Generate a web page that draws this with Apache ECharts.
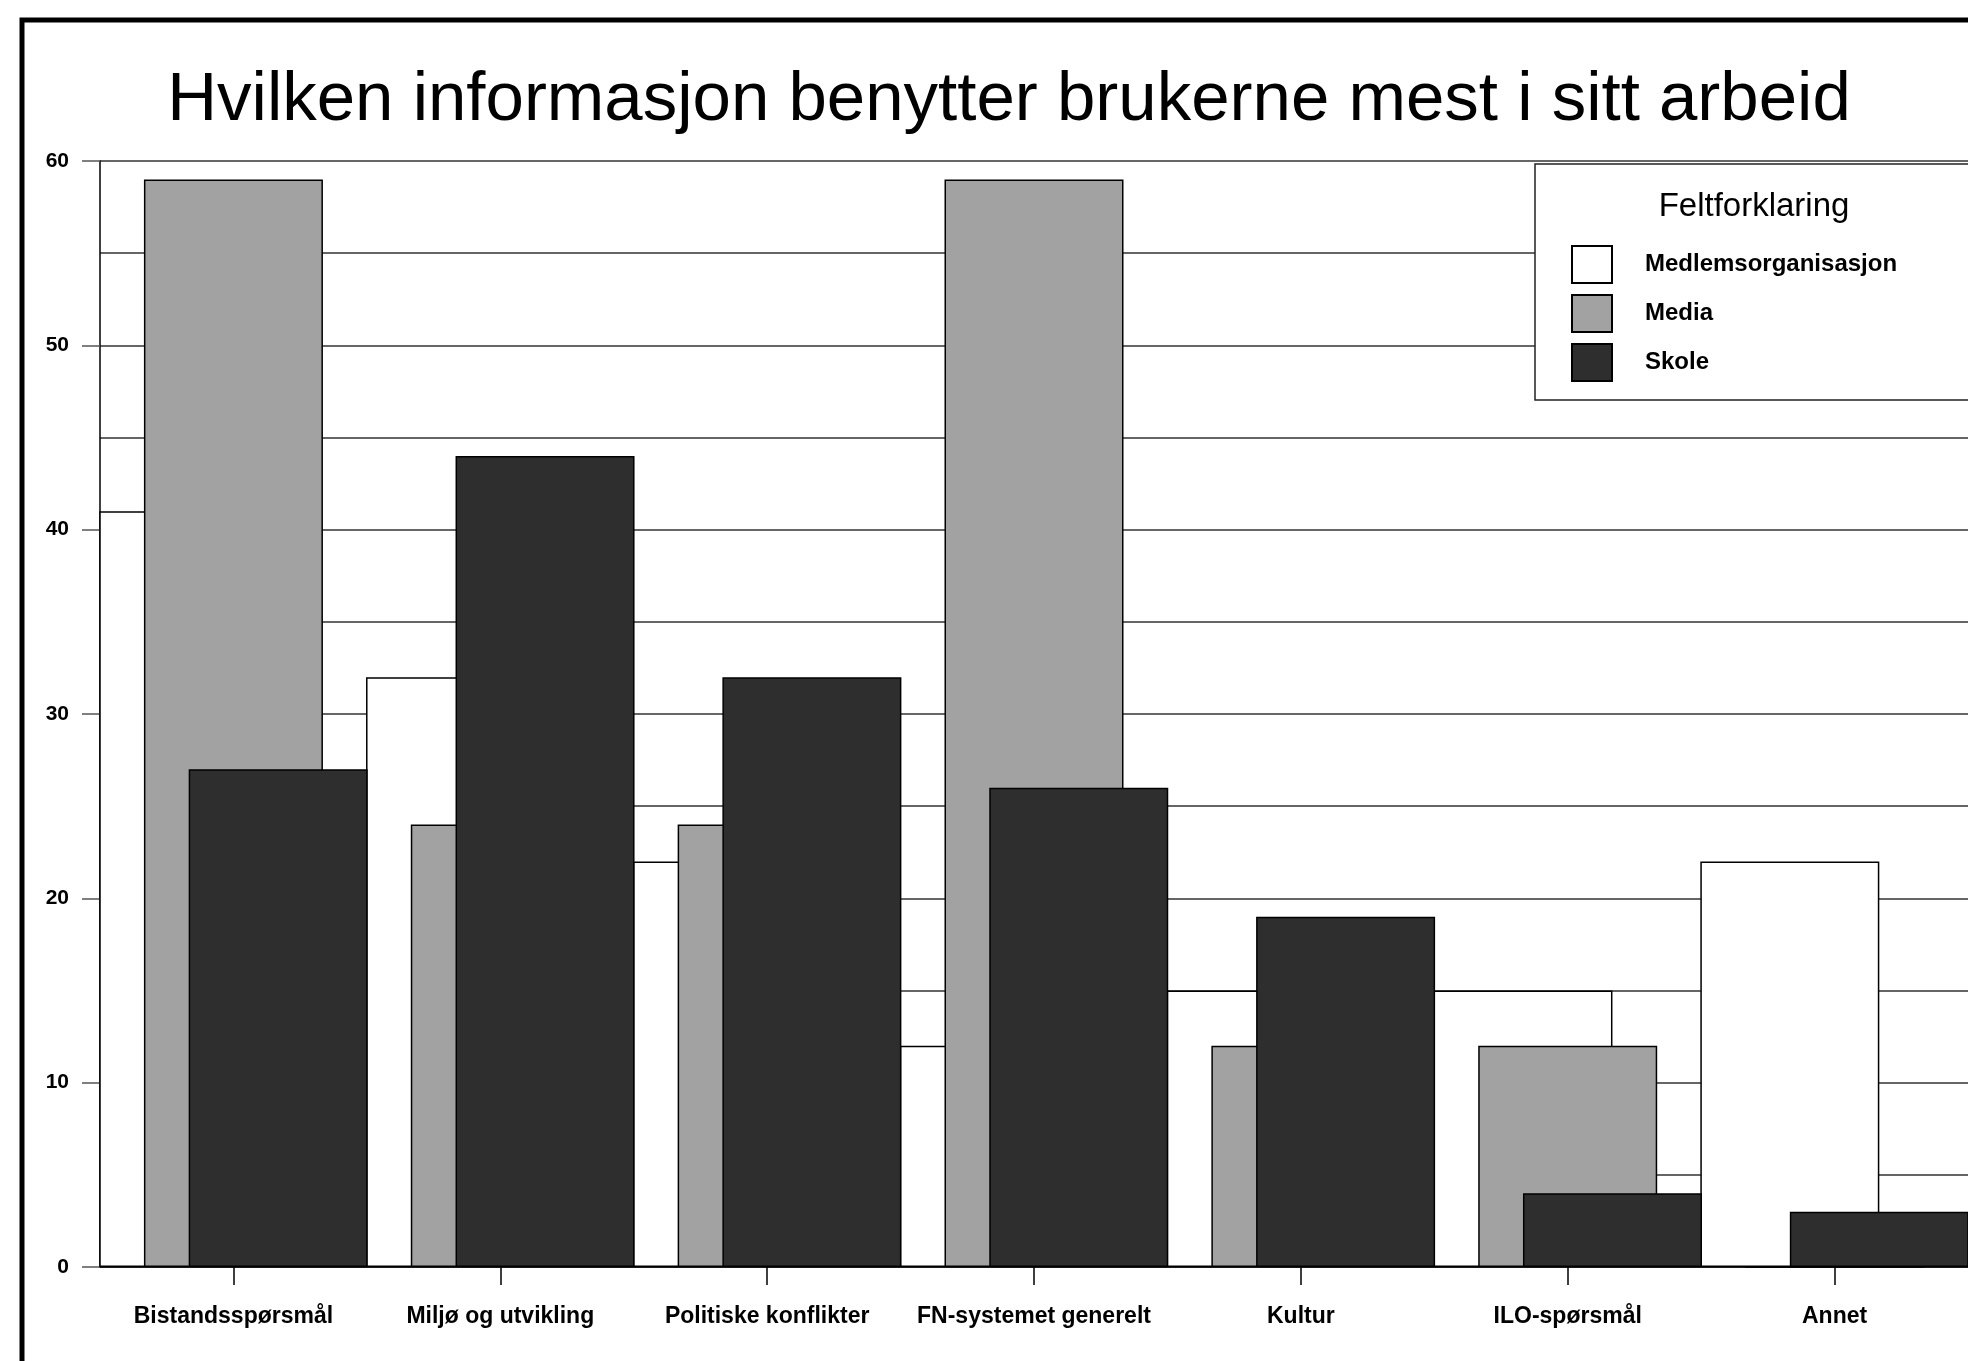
<!DOCTYPE html>
<html>
<head>
<meta charset="utf-8">
<script src="https://cdn.jsdelivr.net/npm/echarts@6/dist/echarts.min.js"></script>
<style>
html,body{margin:0;padding:0;background:#fff;}
#c{width:1968px;height:1361px;}
</style>
</head>
<body>
<div id="c"></div>
<script>
// ---- data ----
const titleText = 'Hvilken informasjon benytter brukerne mest i sitt arbeid';
const legendTitle = 'Feltforklaring';
const categories = ['Bistandsspørsmål', 'Miljø og utvikling', 'Politiske konflikter', 'FN-systemet generelt', 'Kultur', 'ILO-spørsmål', 'Annet'];
const seriesNames = ['Medlemsorganisasjon', 'Media', 'Skole'];
const medlem = [41, 32, 22, 12, 15, 15, 22];
const media = [59, 24, 24, 59, 12, 12, 0];
const skole = [27, 44, 32, 26, 19, 4, 3];
const yTicks = [0, 10, 20, 30, 40, 50, 60];

const chart = echarts.init(document.getElementById('c'), null, {renderer: 'canvas'});
const FONT = '"Liberation Sans", Arial, sans-serif';
const colors = ['#ffffff', '#a2a2a2', '#2e2e2e'];
const values = [medlem, media, skole];

const option = {
  animation: false,
  backgroundColor: '#ffffff',
  title: {
    text: titleText,
    left: 1004,
    top: 61,
    textAlign: 'center',
    textStyle: {fontFamily: FONT, fontSize: 69, fontWeight: 'normal', color: '#000'}
  },
  legend: {
    orient: 'vertical',
    left: 1535,
    top: 164,
    padding: [81, 160, 18, 36],
    itemWidth: 40,
    itemHeight: 37,
    itemGap: 10,
    icon: 'rect',
    backgroundColor: '#ffffff',
    borderColor: '#222',
    borderWidth: 1.5,
    z: 10,
    textStyle: {fontFamily: FONT, fontSize: 24, fontWeight: 'bold', color: '#000', padding: [0, 0, 0, 28]},
    data: seriesNames
  },
  grid: {left: 100, right: -10, top: 161, bottom: 94, containLabel: false},
  xAxis: {
    type: 'category',
    data: categories,
    boundaryGap: true,
    axisLine: {show: true, lineStyle: {color: '#000', width: 1.5}},
    axisTick: {show: true, alignWithLabel: true, length: 18, lineStyle: {color: '#000', width: 1.5}},
    axisLabel: {fontFamily: FONT, fontSize: 23, fontWeight: 'bold', color: '#000', margin: 38, interval: 0}
  },
  yAxis: {
    type: 'value',
    min: yTicks[0],
    max: yTicks[yTicks.length - 1],
    interval: 10,
    axisLine: {show: true, lineStyle: {color: '#000', width: 1.5}},
    axisTick: {show: true, length: 18, lineStyle: {color: '#555', width: 1.5}},
    axisLabel: {fontFamily: FONT, fontSize: 21, fontWeight: 'bold', color: '#000', margin: 31},
    splitLine: {show: true, lineStyle: {color: '#333', width: 1.5}},
    minorTick: {show: false, splitNumber: 2},
    minorSplitLine: {show: true, lineStyle: {color: '#333', width: 1.5}}
  },
  series: seriesNames.map((name, i) => ({
    name: name,
    type: 'bar',
    data: values[i],
    barWidth: 179,
    barGap: '-75%',
    itemStyle: {color: colors[i], borderColor: '#000', borderWidth: 1.5}
  })),
  graphic: [
    {
      type: 'rect', z: 100, silent: true,
      shape: {x: 22, y: 20, width: 2100, height: 1500},
      style: {fill: 'none', stroke: '#000', lineWidth: 5}
    },
    {
      type: 'text', z: 100, silent: true,
      x: 1754, y: 207,
      style: {text: legendTitle, fontFamily: FONT, fontSize: 33, fill: '#000', textAlign: 'center', textVerticalAlign: 'middle'}
    }
  ]
};
chart.setOption(option);
</script>
</body>
</html>
